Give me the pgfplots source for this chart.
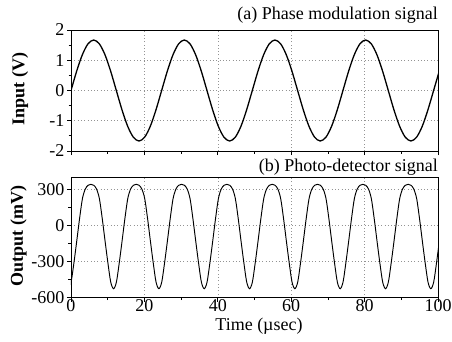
\documentclass[border=0pt]{standalone}
\usepackage{fontspec}
\setmainfont{Liberation Serif}
\usepackage{pgfplots}
\pgfplotsset{compat=1.18}
\begin{document}
\begin{tikzpicture}[font=\fontsize{18}{21}\selectfont]
\useasboundingbox (0,0) rectangle (452pt,341pt);
\pgfplotsset{
  myax/.style={
    scale only axis, width=367pt,
    xmin=0, xmax=100, xtick={0,20,...,100}, minor x tick num=1,
    tick align=outside, tick pos=left,
    major tick length=4pt, minor tick length=2.5pt,
    every tick/.style={black, line width=0.8pt},
    grid=major,
    major grid style={gray!85, line width=0.6pt, dash pattern=on 0.9pt off 2.4pt},
    axis line style={line width=0.9pt},
    /pgf/number format/assume math mode=true,
    ticklabel style={font=\fontsize{18}{21}\selectfont},
    yticklabel style={xshift=1pt},
    clip=true,
  }
}
\begin{axis}[myax, at={(71pt,190pt)}, anchor=south west, height=121pt,
  ymin=-2, ymax=2, ytick={-2,-1,0,1,2}, minor y tick num=1,
  xticklabels={}]
\addplot[black, line width=1.3pt, smooth] coordinates {
(0,0) (1.544,0.639) (3.088,1.181) (4.631,1.543) (6.175,1.67) (7.719,1.543) (9.263,1.181) (10.806,0.639) (12.35,0) (13.894,-0.639) (15.438,-1.181) (16.981,-1.543) (18.525,-1.67) (20.069,-1.543) (21.613,-1.181) (23.156,-0.639)
(24.7,0) (26.244,0.639) (27.788,1.181) (29.331,1.543) (30.875,1.67) (32.419,1.543) (33.963,1.181) (35.506,0.639) (37.05,0) (38.594,-0.639) (40.138,-1.181) (41.681,-1.543) (43.225,-1.67) (44.769,-1.543) (46.313,-1.181) (47.856,-0.639)
(49.4,0) (50.944,0.639) (52.488,1.181) (54.031,1.543) (55.575,1.67) (57.119,1.543) (58.663,1.181) (60.206,0.639) (61.75,0) (63.294,-0.639) (64.838,-1.181) (66.381,-1.543) (67.925,-1.67) (69.469,-1.543) (71.013,-1.181) (72.556,-0.639)
(74.1,0) (75.644,0.639) (77.188,1.181) (78.731,1.543) (80.275,1.67) (81.819,1.543) (83.363,1.181) (84.906,0.639) (86.45,0) (87.994,-0.639) (89.538,-1.181) (91.081,-1.543) (92.625,-1.67) (94.169,-1.543) (95.713,-1.181) (97.256,-0.639) (98.8,0) (100.344,0.639)
};
\end{axis}
\begin{axis}[myax, at={(71pt,43.3pt)}, anchor=south west, height=120pt,
  ymin=-600, ymax=400, ytick={-600,-300,0,300}, minor y tick num=1,
  xticklabel style={yshift=6pt}]
\addplot[black, line width=0.95pt, smooth] coordinates {
(-0.75,-525) (0.022,-470) (0.794,-310) (1.566,-128) (2.338,60) (3.109,225) (3.881,305) (4.653,337) (5.425,345) (6.197,337) (6.969,305) (7.741,225) (8.513,60) (9.284,-128) (10.056,-310) (10.828,-470)
(11.6,-525) (12.372,-470) (13.144,-310) (13.916,-128) (14.688,60) (15.459,225) (16.231,305) (17.003,337) (17.775,345) (18.547,337) (19.319,305) (20.091,225) (20.863,60) (21.634,-128) (22.406,-310) (23.178,-470)
(23.95,-525) (24.722,-470) (25.494,-310) (26.266,-128) (27.038,60) (27.809,225) (28.581,305) (29.353,337) (30.125,345) (30.897,337) (31.669,305) (32.441,225) (33.213,60) (33.984,-128) (34.756,-310) (35.528,-470)
(36.3,-525) (37.072,-470) (37.844,-310) (38.616,-128) (39.388,60) (40.159,225) (40.931,305) (41.703,337) (42.475,345) (43.247,337) (44.019,305) (44.791,225) (45.563,60) (46.334,-128) (47.106,-310) (47.878,-470)
(48.65,-525) (49.422,-470) (50.194,-310) (50.966,-128) (51.738,60) (52.509,225) (53.281,305) (54.053,337) (54.825,345) (55.597,337) (56.369,305) (57.141,225) (57.913,60) (58.684,-128) (59.456,-310) (60.228,-470)
(61,-525) (61.772,-470) (62.544,-310) (63.316,-128) (64.088,60) (64.859,225) (65.631,305) (66.403,337) (67.175,345) (67.947,337) (68.719,305) (69.491,225) (70.263,60) (71.034,-128) (71.806,-310) (72.578,-470)
(73.35,-525) (74.122,-470) (74.894,-310) (75.666,-128) (76.438,60) (77.209,225) (77.981,305) (78.753,337) (79.525,345) (80.297,337) (81.069,305) (81.841,225) (82.613,60) (83.384,-128) (84.156,-310) (84.928,-470)
(85.7,-525) (86.472,-470) (87.244,-310) (88.016,-128) (88.788,60) (89.559,225) (90.331,305) (91.103,337) (91.875,345) (92.647,337) (93.419,305) (94.191,225) (94.963,60) (95.734,-128) (96.506,-310) (97.278,-470)
(98.05,-525) (98.822,-470) (99.594,-310) (100.366,-128)
};
\end{axis}
\node[anchor=base east, inner sep=0pt] at (438pt,322pt) {(a) Phase modulation signal};
\node[anchor=base east, inner sep=0pt] at (438pt,170pt) {(b) Photo-detector signal};
\node[anchor=base, inner sep=0pt] at (259pt,11pt) {Time (µsec)};
\node[rotate=90, inner sep=0pt] at (20pt,252pt) {\textbf{Input (V)}};
\node[rotate=90, inner sep=0pt] at (18.5pt,105pt) {\textbf{Output (mV)}};
\end{tikzpicture}
\end{document}
